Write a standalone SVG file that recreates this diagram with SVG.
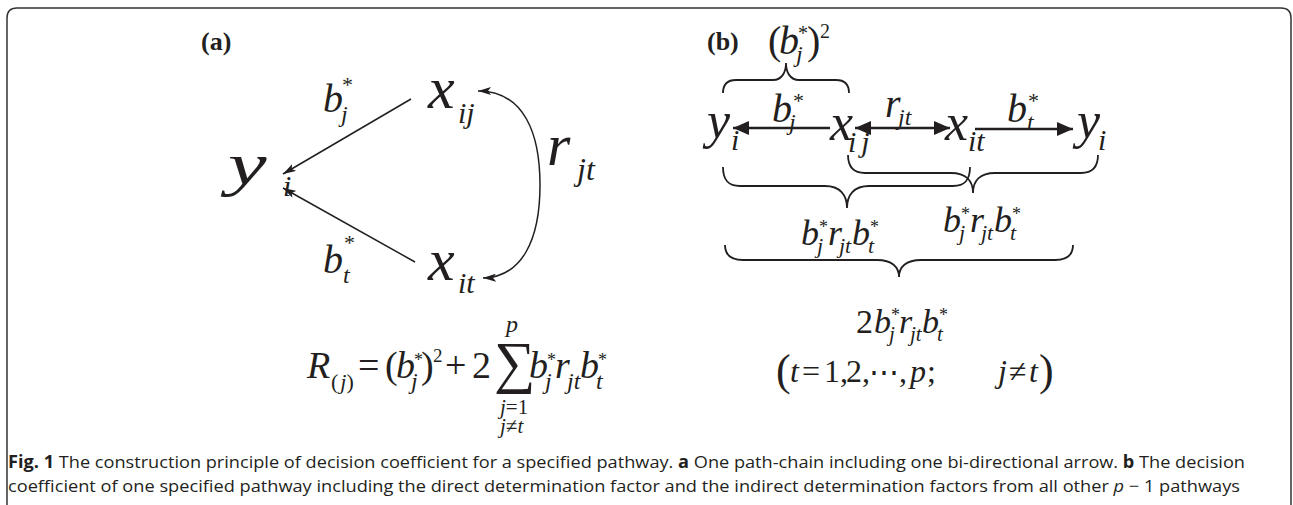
<svg xmlns="http://www.w3.org/2000/svg" width="1293" height="505" viewBox="0 0 1293 505">
<style>
.mi{font-family:"Liberation Serif","Times New Roman",serif;font-style:italic;fill:#231f20}
.mn{font-family:"Liberation Serif","DejaVu Serif",serif;font-style:normal;fill:#231f20}
.hd{font-family:"Liberation Serif",serif;font-weight:bold;font-size:26px;fill:#231f20}
.cap{font-family:"Open Sans","Liberation Sans",sans-serif;font-size:17px;fill:#231f20}
.thin{stroke:#231f20;stroke-width:1.5;fill:none}
.thick{stroke:#231f20;stroke-width:2.5;fill:none}
.brace{stroke:#231f20;stroke-width:1.8;fill:none}
</style>
<defs>
<marker id="ha" viewBox="0 0 13 8" refX="13" refY="4" markerWidth="13" markerHeight="8" markerUnits="userSpaceOnUse" orient="auto-start-reverse">
<path d="M0,0 L13,4 L0,8 L3,4 z" fill="#231f20"/>
</marker>
<marker id="hb" viewBox="0 0 16 14" refX="16" refY="7" markerWidth="16" markerHeight="14" markerUnits="userSpaceOnUse" orient="auto-start-reverse">
<path d="M0,0 L16,7 L0,14 z" fill="#231f20"/>
</marker>
</defs>

<path id="frame" d="M7,505 L7,18 Q7,8 17,8 L1281,8 Q1291,8 1291,18 L1291,505" stroke="#333" stroke-width="1.5" fill="none"/>

<text class="hd" x="201" y="50">(a)</text>
<text class="hd" x="707" y="50">(b)</text>

<g id="connectors">
<path class="thin" d="M411,99 L283,174" marker-end="url(#ha)"/>
<path class="thin" d="M415,262 L283,188" marker-end="url(#ha)"/>
<path class="thin" d="M478,91 C525,91 540,135 540,185 C540,240 522,277 483,278" marker-start="url(#ha)" marker-end="url(#ha)"/>
<path class="thick" d="M830,128 L733,128" marker-end="url(#hb)"/>
<path class="thick" d="M855,128 L950,128" marker-start="url(#hb)" marker-end="url(#hb)"/>
<path class="thick" d="M975,129 L1073,129" marker-end="url(#hb)"/>
<path class="brace" d="M723,93 C723,84 727,80 736,80 L773,80 C782,80 786,72 786,63 C786,72 790,80 799,80 L836,80 C845,80 849,84 849,93"/>
<path class="brace" d="M723,167 C723,180 728,186 740,186 L825,186 C840,186 847,195 847,208 C847,195 854,186 869,186 L953,186 C965,186 970,180 970,167"/>
<path class="brace" d="M848,155 C848,167 853,173 865,173 L951,173 C966,173 973,181 973,193 C973,181 980,173 995,173 L1081,173 C1093,173 1098,167 1098,155"/>
<path class="brace" d="M725,245 C725,255 731,260 743,260 L877,260 C892,260 899,267 899,277 C899,267 906,260 921,260 L1055,260 C1067,260 1073,255 1073,245"/>
</g>

<!-- panel a -->
<g id="a-yi"><text class="mi" font-size="60" transform="translate(228,184) scale(1.45,1)">y</text><text class="mi" x="283" y="196" font-size="30">i</text></g>
<g id="a-xij"><text class="mi" x="428" y="108" font-size="60">x</text><text class="mi" x="458" y="123" font-size="30">ij</text></g>
<g id="a-xit"><text class="mi" x="428" y="280" font-size="60">x</text><text class="mi" x="458" y="293" font-size="30">it</text></g>
<g id="a-bj"><text class="mi" x="323" y="112" font-size="40">b</text><text class="mn" x="342" y="92" font-size="22">*</text><text class="mi" x="341" y="122" font-size="24">j</text></g>
<g id="a-bt"><text class="mi" x="323" y="273" font-size="40">b</text><text class="mn" x="344" y="250" font-size="22">*</text><text class="mi" x="343" y="283" font-size="24">t</text></g>
<g id="a-rjt"><text class="mi" x="547" y="165" font-size="60">r</text><text class="mi" x="577" y="180" font-size="32">jt</text></g>

<g id="a-formula">
<text class="mi" x="307" y="378" font-size="38">R</text>
<text class="mn" x="331" y="389" font-size="22">(<tspan class="mi" dx="2">j</tspan>)</text>
<text class="mn" x="358" y="378" font-size="38">=</text>
<text class="mn" x="385" y="378" font-size="38">(</text>
<text class="mi" x="396" y="378" font-size="38">b</text>
<text class="mn" x="414" y="366" font-size="18">*</text>
<text class="mi" x="411" y="389" font-size="24">j</text>
<text class="mn" x="421" y="378" font-size="38">)</text>
<text class="mn" x="433" y="362" font-size="19">2</text>
<text class="mn" x="445" y="378" font-size="38">+</text>
<text class="mn" x="472" y="378" font-size="38">2</text>
<text class="mn" x="494" y="382" font-size="58">∑</text>
<text class="mi" x="506" y="332" font-size="24">p</text>
<text class="mn" x="500" y="414" font-size="21"><tspan class="mi">j</tspan>=1</text>
<text class="mn" x="500" y="433" font-size="21"><tspan class="mi">j</tspan>≠<tspan class="mi">t</tspan></text>
<text class="mi" x="529" y="378" font-size="38">b</text>
<text class="mn" x="547" y="366" font-size="18">*</text>
<text class="mi" x="545" y="389" font-size="24">j</text>
<text class="mi" x="555" y="378" font-size="38">r</text>
<text class="mi" x="567" y="389" font-size="24">jt</text>
<text class="mi" x="580" y="378" font-size="38">b</text>
<text class="mn" x="598" y="366" font-size="18">*</text>
<text class="mi" x="596" y="389" font-size="24">t</text>
</g>

<!-- panel b -->
<g id="b-bj2">
<text class="mn" x="768" y="54" font-size="40">(</text>
<text class="mi" x="779" y="54" font-size="40">b</text>
<text class="mn" x="798" y="40" font-size="20">*</text>
<text class="mi" x="796" y="62" font-size="24">j</text>
<text class="mn" x="807" y="54" font-size="40">)</text>
<text class="mn" x="820" y="38" font-size="20">2</text>
</g>
<g id="b-bj"><text class="mi" x="772" y="122" font-size="40">b</text><text class="mn" x="793" y="108" font-size="22">*</text><text class="mi" x="789" y="130" font-size="24">j</text></g>
<g id="b-yi1"><text class="mi" x="707" y="138" font-size="52">y</text><text class="mi" x="731" y="150" font-size="30">i</text></g>
<g id="b-xij"><text class="mi" x="830" y="140" font-size="52">x</text><text class="mi" x="848" y="152" font-size="30">i<tspan dx="5">j</tspan></text></g>
<g id="b-rjt"><text class="mi" x="885" y="117" font-size="40">r</text><text class="mi" x="898" y="125" font-size="24">jt</text></g>
<g id="b-xit"><text class="mi" x="945" y="140" font-size="52">x</text><text class="mi" x="968" y="151" font-size="30">it</text></g>
<g id="b-bt"><text class="mi" x="1007" y="122" font-size="40">b</text><text class="mn" x="1028" y="108" font-size="22">*</text><text class="mi" x="1027" y="130" font-size="24">t</text></g>
<g id="b-yi2"><text class="mi" x="1077" y="138" font-size="52">y</text><text class="mi" x="1098" y="150" font-size="30">i</text></g>

<g id="b-term1">
<text class="mi" x="801" y="245" font-size="36">b</text><text class="mn" x="819" y="233" font-size="18">*</text><text class="mi" x="817" y="253" font-size="22">j</text>
<text class="mi" x="828" y="245" font-size="36">r</text><text class="mi" x="839" y="253" font-size="22">jt</text>
<text class="mi" x="852" y="245" font-size="36">b</text><text class="mn" x="870" y="233" font-size="18">*</text><text class="mi" x="868" y="253" font-size="22">t</text>
</g>
<g id="b-term2">
<text class="mi" x="943" y="232" font-size="36">b</text><text class="mn" x="961" y="220" font-size="18">*</text><text class="mi" x="959" y="240" font-size="22">j</text>
<text class="mi" x="970" y="232" font-size="36">r</text><text class="mi" x="981" y="240" font-size="22">jt</text>
<text class="mi" x="994" y="232" font-size="36">b</text><text class="mn" x="1012" y="220" font-size="18">*</text><text class="mi" x="1010" y="240" font-size="22">t</text>
</g>
<g id="b-term3">
<text class="mn" x="856" y="333" font-size="34">2</text>
<text class="mi" x="874" y="333" font-size="34">b</text><text class="mn" x="891" y="321" font-size="18">*</text><text class="mi" x="889" y="341" font-size="21">j</text>
<text class="mi" x="899" y="333" font-size="34">r</text><text class="mi" x="910" y="341" font-size="21">jt</text>
<text class="mi" x="922" y="333" font-size="34">b</text><text class="mn" x="939" y="321" font-size="18">*</text><text class="mi" x="937" y="341" font-size="21">t</text>
</g>
<g id="b-range">
<text class="mn" x="776" y="385" font-size="44">(</text>
<text class="mi" x="790" y="382" font-size="32">t</text>
<text class="mn" x="802" y="382" font-size="32">=</text>
<text class="mn" x="824" y="382" font-size="32">1</text>
<text class="mn" x="840" y="382" font-size="32">,</text>
<text class="mn" x="846" y="382" font-size="32">2</text>
<text class="mn" x="862" y="382" font-size="32">,</text>
<text class="mn" x="869" y="382" font-size="30">⋯</text>
<text class="mn" x="899" y="382" font-size="32">,</text>
<text class="mi" x="910" y="382" font-size="32">p</text>
<text class="mn" x="927" y="382" font-size="32">;</text>
<text class="mi" x="998" y="382" font-size="32">j</text>
<text class="mn" x="1009" y="382" font-size="32">≠</text>
<text class="mi" x="1029" y="382" font-size="32">t</text>
<text class="mn" x="1039" y="385" font-size="44">)</text>
</g>

<g id="caption">
<text class="cap" x="8" y="468" textLength="1237" lengthAdjust="spacingAndGlyphs"><tspan font-weight="bold">Fig. 1</tspan> The construction principle of decision coefficient for a specified pathway. <tspan font-weight="bold">a</tspan> One path-chain including one bi-directional arrow. <tspan font-weight="bold">b</tspan> The decision</text>
<text class="cap" x="8" y="492" textLength="1232" lengthAdjust="spacingAndGlyphs">coefficient of one specified pathway including the direct determination factor and the indirect determination factors from all other <tspan font-style="italic">p</tspan> − 1 pathways</text>
</g>
</svg>
